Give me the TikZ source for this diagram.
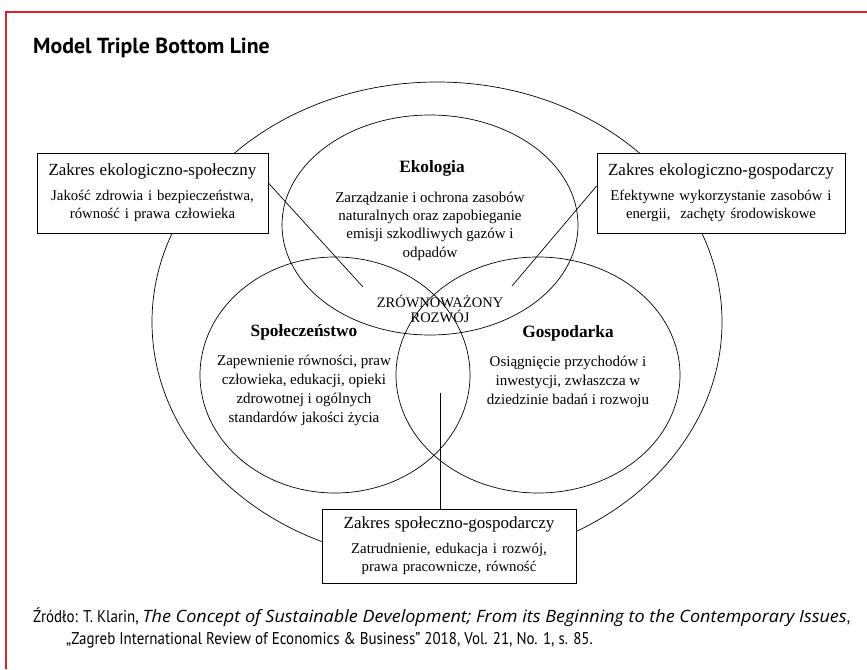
\documentclass[tikz,border=0pt]{standalone}
\usepackage{fontspec}
\setmainfont{Liberation Serif}
\newfontfamily\titlefont{PT Sans}
\newfontfamily\capfont[FakeStretch=0.88]{PT Sans}
\newfontfamily\capitfont[FakeStretch=1.06]{Open Sans}
\usetikzlibrary{shapes.geometric}
\definecolor{framered}{RGB}{214,35,44}
\begin{document}
\begin{tikzpicture}[x=1pt,y=-1pt,
  ring/.style={draw, ellipse, inner sep=0pt, line width=0.7pt},
  zbox/.style={draw, fill=white, line width=0.8pt, inner sep=2pt, align=center,
    font=\fontsize{14.8}{18}\selectfont},
  bodytext/.style={align=center, inner sep=0pt, font=\fontsize{15}{18.3}\selectfont},
  headtext/.style={inner sep=0pt, font=\bfseries\fontsize{17.3}{20}\selectfont},
  srctext/.style={anchor=base west, inner sep=0pt, font=\capfont\fontsize{17}{21}\selectfont},
  conn/.style={draw, line width=0.7pt}]
\useasboundingbox (0,0) rectangle (867,669);
% frame
\draw[framered, line width=2.6pt] (6,669) -- (6,12) -- (867,12);
% title
\node[anchor=base west, inner sep=0pt, font=\titlefont\bfseries\fontsize{21.8}{24}\selectfont] (title) at (33,53) {Model Triple Bottom Line};
% ellipses
\node[ring, minimum width=570, minimum height=480] (outer) at (437,322) {};
\node[ring, minimum width=296, minimum height=220] (eko) at (430,225) {};
\node[ring, minimum width=270, minimum height=236] (spo) at (335,375) {};
\node[ring, minimum width=284, minimum height=236] (gos) at (538,375) {};
% texts in ellipses
\node[headtext] (ekoh) at (432,168) {Ekologia};
\node[bodytext] (ekob) at (430,226) {Zarządzanie i ochrona zasobów\\naturalnych oraz zapobieganie\\emisji szkodliwych gazów i\\odpadów};
\node[bodytext, font=\fontsize{14.5}{15.5}\selectfont] (zr) at (440,309) {ZRÓWNOWAŻONY\\ROZWÓJ};
\node[headtext] (spoh) at (304,332) {Społeczeństwo};
\node[bodytext, font=\fontsize{15}{19}\selectfont] (spob) at (304,390) {Zapewnienie równości, praw\\człowieka, edukacji, opieki\\zdrowotnej i ogólnych\\standardów jakości życia};
\node[headtext] (gosh) at (568,333) {Gospodarka};
\node[bodytext, font=\fontsize{15}{19}\selectfont] (gosb) at (568,382) {Osiągnięcie przychodów i\\inwestycji, zwłaszcza w\\dziedzinie badań i rozwoju};
% boxes
\node[zbox, minimum width=231, minimum height=80, text width=227] (lbox) at (152.5,193) {{\fontsize{17}{19}\selectfont Zakres ekologiczno-społeczny\par}\vspace{7pt}Jakość zdrowia i bezpieczeństwa,\\równość i prawa człowieka};
\node[zbox, minimum width=248, minimum height=80, text width=244] (rbox) at (721,193) {{\fontsize{17}{19}\selectfont Zakres ekologiczno-gospodarczy\par}\vspace{7pt}Efektywne wykorzystanie zasobów i\\energii,\ \ zachęty środowiskowe};
\node[zbox, minimum width=254, minimum height=74, text width=250] (sbox) at (449,546) {{\fontsize{17}{19}\selectfont Zakres społeczno-gospodarczy\par}\vspace{7pt}Zatrudnienie, edukacja i rozwój,\\prawa pracownicze, równość};
% connectors
\coordinate (c1) at (363,287);
\coordinate (c2) at (512,286);
\coordinate (c3) at (440,393);
\draw[conn] ([yshift=10pt]lbox.east) -- (c1);
\draw[conn] ([yshift=7pt]rbox.west) -- (c2);
\draw[conn] (c3) -- (c3 |- sbox.north);
% source
\node[srctext] (src1) at (33,622) {Źródło: T. Klarin, {\capitfont\itshape\fontsize{17}{21}\selectfont The Concept of Sustainable Development; From its Beginning to the Contemporary Issues},};
\node[srctext] (src2) at (66,644) {„Zagreb International Review of Economics \& Business” 2018, Vol. 21, No. 1, s. 85.};
\end{tikzpicture}
\end{document}
